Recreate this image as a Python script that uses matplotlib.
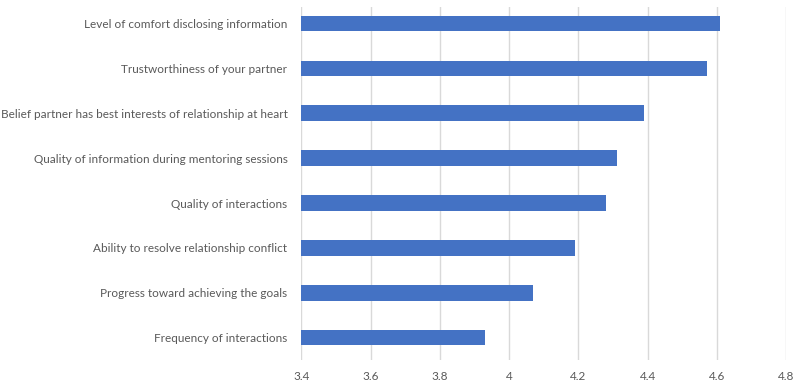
import matplotlib.pyplot as plt

labels = [
    "Level of comfort disclosing information",
    "Trustworthiness of your partner",
    "Belief partner has best interests of relationship at heart",
    "Quality of information during mentoring sessions",
    "Quality of interactions",
    "Ability to resolve relationship conflict",
    "Progress toward achieving the goals",
    "Frequency of interactions",
]
values = [4.61, 4.57, 4.39, 4.31, 4.28, 4.19, 4.07, 3.93]
xticks = [3.4, 3.6, 3.8, 4.0, 4.2, 4.4, 4.6, 4.8]
xtick_labels = ["3.4", "3.6", "3.8", "4", "4.2", "4.4", "4.6", "4.8"]

plt.rcParams['font.family'] = ['Lato', 'DejaVu Sans']

fig = plt.figure(figsize=(7.94, 3.85), dpi=100)
ax = fig.add_axes([0.3795, 0.0649, 0.6108, 0.9169])

# reverse so the first label sits on top
pos = list(range(len(labels)))[::-1]
ax.barh(pos, [v - 3.4 for v in values], left=3.4, height=0.35,
        color='#4472C4', zorder=3)

ax.set_xlim(3.4, 4.8)
ax.set_ylim(-0.5, 7.37)
ax.set_xticks(xticks)
ax.set_xticklabels(xtick_labels)
ax.set_yticks(pos)
ax.set_yticklabels(labels)

ax.grid(axis='x', color='#d9d9d9', linewidth=1, zorder=0)
for s in ax.spines.values():
    s.set_visible(False)
ax.tick_params(axis='both', length=0, colors='#595959', labelsize=8.5)
ax.tick_params(axis='y', pad=10)
ax.tick_params(axis='x', pad=8)

fig.savefig('out.png', dpi=100)
